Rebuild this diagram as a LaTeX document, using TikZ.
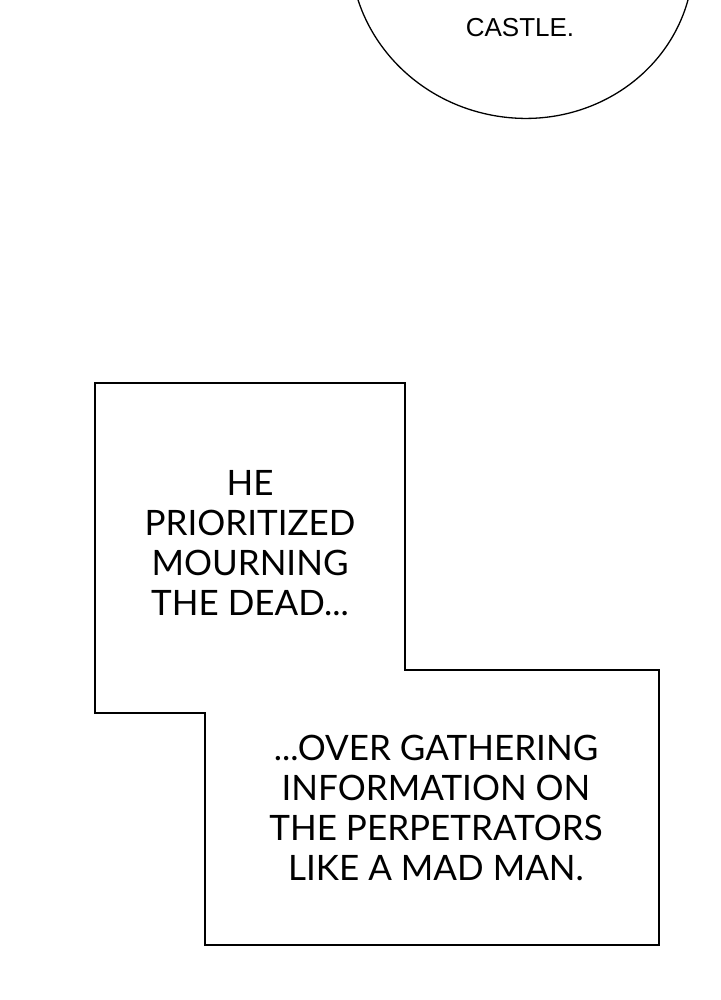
\documentclass[tikz,border=0pt]{standalone}
\usepackage{fontspec}
\setmainfont{Lato}
\newfontfamily\bubblefont{Liberation Sans}

\begin{document}
\begin{tikzpicture}[x=1pt,y=-1pt]

\tikzset{caption/.style = {align=center, font=\fontsize{35}{40}\selectfont, inner sep=0pt}}
\tikzset{frame/.style = {draw, line width=1.3pt}}
%canvas
\useasboundingbox (0,0) rectangle (720,1000);
\begin{scope}
\clip (0,0) rectangle (720,1000);
\draw[line width=1.3pt, rotate around={-12:(522,-45)}] (522,-45) ellipse [x radius=172, y radius=163];
\end{scope}
\node[font=\bubblefont\fontsize{26}{30}\selectfont, inner sep=0pt] (castle) at (520,28) {CASTLE.};
%caption box
\draw[frame] (95,383) -- (405,383) -- (405,670) -- (659,670) -- (659,945)
  -- (205,945) -- (205,713) -- (95,713) -- cycle;
\node[caption] (upper) at (250,543) {HE\\PRIORITIZED\\MOURNING\\THE DEAD...};
\node[caption] (lower) at (436,808) {...OVER GATHERING\\INFORMATION ON\\THE PERPETRATORS\\LIKE A MAD MAN.};

\end{tikzpicture}
\end{document}
